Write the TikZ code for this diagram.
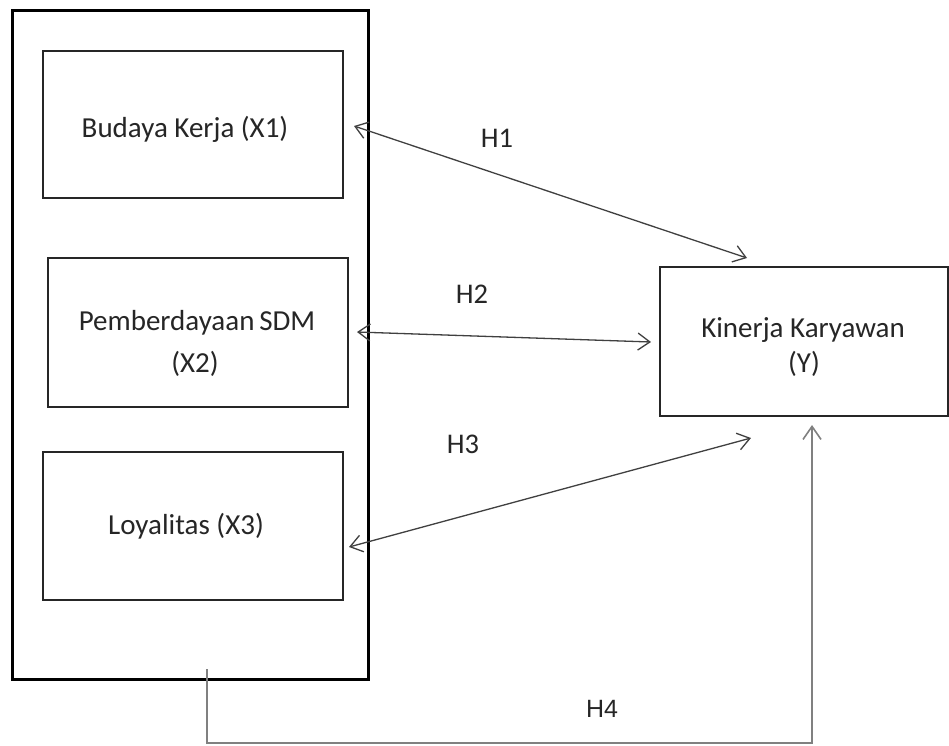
\documentclass[tikz,border=0pt]{standalone}
\usepackage{fontspec}
\setmainfont{Carlito}
\newfontfamily\arialfont{Liberation Sans}
\usetikzlibrary{arrows.meta}
\begin{document}
\begin{tikzpicture}[x=1pt,y=-1pt,
  boxthick/.style={draw=black,line width=3pt},
  boxthin/.style={draw=black!85,line width=2pt},
  lbl/.style={anchor=base,inner sep=0pt,font=\fontsize{29}{31}\selectfont,text=black!85},
  hlbl/.style={anchor=base,inner sep=0pt,font=\fontsize{28.5}{31}\selectfont,text=black!85},
  hyp/.style={draw=black!75,line width=1.3pt,{Straight Barb[length=12pt,width=17pt]}-{Straight Barb[length=12pt,width=17pt]}},
  hypfour/.style={draw=black!50,line width=1.6pt,-{Straight Barb[length=13pt,width=18pt]}}
]
\useasboundingbox (0,0) rectangle (949,745);
\fill[white] (0,0) rectangle (949,745);

% boxes
\draw[boxthick] (12,10) rectangle (368,679);
\coordinate (outerbottom) at (207,669);
\node[boxthin,rectangle,minimum width=300pt,minimum height=147pt,inner sep=0pt] (x1) at (193,124.5) {};
\node[boxthin,rectangle,minimum width=300pt,minimum height=149pt,inner sep=0pt] (x2) at (198,332.5) {};
\node[boxthin,rectangle,minimum width=300pt,minimum height=148pt,inner sep=0pt] (x3) at (193,526) {};
\node[boxthin,rectangle,minimum width=288pt,minimum height=149pt,inner sep=0pt] (y) at (803.5,341.5) {};

% texts
\node[lbl] (tx1) at (185,137) {Budaya Kerja (X1)};
\node[lbl] (tx2a) at (197,330) {Pemberdayaan\,SDM};
\node[lbl] (tx2b) at (195,372) {(X2)};
\node[lbl] (tx3) at (186,534) {Loyalitas (X3)};
\node[lbl] (tya) at (803,337) {Kinerja Karyawan};
\node[lbl] (tyb) at (804,372) {(Y)};

% hypothesis labels
\node[hlbl] (h1) at (497,147) {H1};
\node[hlbl] (h2) at (472,303) {H2};
\node[hlbl] (h3) at (463,453) {H3};
\node[anchor=base,inner sep=0pt,font=\arialfont\fontsize{25}{28}\selectfont,text=black!85] (h4) at (602,717) {H4};

% connector end points
\coordinate (a1) at (354,126);
\coordinate (b1) at (747,258);
\coordinate (a2) at (357,332);
\coordinate (b2) at (651,342);
\coordinate (a3) at (349,547);
\coordinate (b3) at (751,438);
\coordinate (b4) at (812,425);

\draw[hyp] (a1) -- (b1);
\draw[hyp] (a2) -- (b2);
\draw[hyp] (a3) -- (b3);
\draw[hypfour] (outerbottom) -- (207,743) -- (812,743) -- (b4);
\end{tikzpicture}
\end{document}
